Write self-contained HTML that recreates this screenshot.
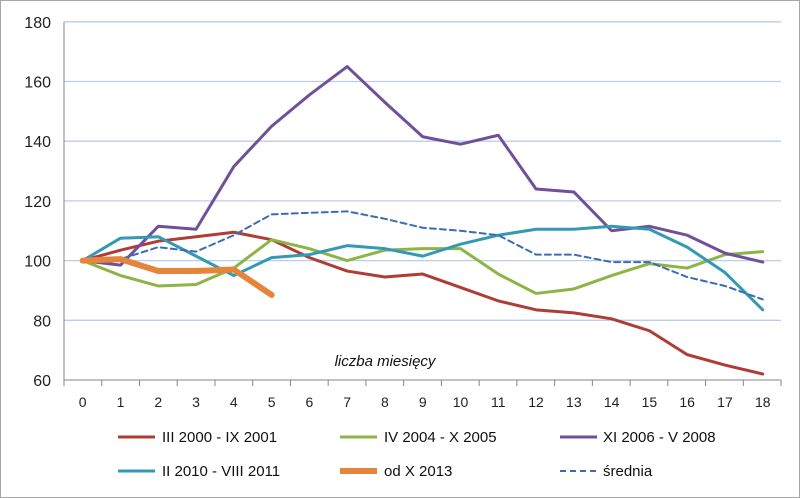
<!DOCTYPE html>
<html><head><style>
body{margin:0;background:#fff}
svg{display:block;font-family:"Liberation Sans",sans-serif}
</style></head><body>
<svg width="800" height="498" xmlns="http://www.w3.org/2000/svg">
<rect x="0.5" y="0.5" width="799" height="497" fill="#fff" stroke="#a6a6a6"/>
<g id="grid" stroke="#b9cdec" stroke-width="1.3"></g>
<g id="axes" stroke="#868686" stroke-width="1"></g>
<g id="labels" font-size="16" fill="#222"></g>
<text x="385" y="366" font-size="15" font-style="italic" text-anchor="middle" fill="#111">liczba miesięcy</text>
<g id="series" fill="none" stroke-linejoin="round"></g>
<g font-size="15" fill="#111">
<line x1="118" y1="437" x2="155" y2="437" stroke="#b03c36" stroke-width="3"/><text x="162" y="442">III 2000 - IX 2001</text>
<line x1="340" y1="437" x2="377" y2="437" stroke="#8db445" stroke-width="3"/><text x="384" y="442">IV 2004 - X 2005</text>
<line x1="560" y1="437" x2="597" y2="437" stroke="#71509a" stroke-width="3"/><text x="603" y="442">XI 2006 - V 2008</text>
<line x1="118" y1="471" x2="155" y2="471" stroke="#3399b4" stroke-width="3"/><text x="162" y="476">II 2010 - VIII 2011</text>
<line x1="340" y1="471" x2="377" y2="471" stroke="#e6843a" stroke-width="6"/><text x="384" y="476">od X 2013</text>
<line x1="560" y1="471" x2="597" y2="471" stroke="#3d6cb0" stroke-width="2" stroke-dasharray="6,4"/><text x="603" y="476">średnia</text>
</g>
</svg>
<script>
const NS="http://www.w3.org/2000/svg";
const X=i=>82.7+i*37.78, Y=v=>380-(v-60)*2.985;
function el(p,t,a,txt){const e=document.createElementNS(NS,t);for(const k in a)e.setAttribute(k,a[k]);if(txt!=null)e.textContent=txt;document.getElementById(p).appendChild(e);}
for(let v=80;v<=180;v+=20)el("grid","line",{x1:64,x2:781,y1:Y(v),y2:Y(v)});
el("axes","line",{x1:64,x2:64,y1:22,y2:386});
el("axes","line",{x1:64,x2:781,y1:380,y2:380});
for(let i=0;i<=19;i++){const x=64+i*37.74;el("axes","line",{x1:x,x2:x,y1:380,y2:386});}
for(let v=60;v<=180;v+=20)el("labels","text",{x:51,y:Y(v)+6,"text-anchor":"end"},v);
for(let i=0;i<=18;i++)el("labels","text",{x:X(i),y:407,"text-anchor":"middle","font-size":"14"},i);
const S=[
["#b03c36",3,"",[100,103.5,106.5,108,109.5,107,101,96.5,94.5,95.5,91,86.5,83.5,82.5,80.5,76.5,68.5,65,62]],
["#8db445",3,"",[100,95,91.5,92,97.5,107,104,100,103.5,104,104,95.5,89,90.5,95,99,97.5,102,103]],
["#71509a",3,"",[100,98.5,111.5,110.5,131.5,145,155.5,165,153,141.5,139,142,124,123,110,111.5,108.5,102.5,99.5]],
["#3399b4",3,"",[100,107.5,108,101.5,95,101,102,105,104,101.5,105.5,108.5,110.5,110.5,111.5,110.5,104.5,96,83.5]],
["#3d6cb0",2,"6,4",[100,100.5,104.5,103,108.5,115.5,116,116.5,114,111,110,108.5,102,102,99.5,99.5,94.5,91.5,87]],
["#e6843a",6,"",[100,100.5,96.5,96.5,97,88.5]]];
for(const [c,w,d,vals] of S){const a={points:vals.map((v,i)=>X(i)+","+Y(v)).join(" "),stroke:c,"stroke-width":w,"stroke-linecap":"round"};if(d)a["stroke-dasharray"]=d;el("series","polyline",a);}
</script>
</body></html>
